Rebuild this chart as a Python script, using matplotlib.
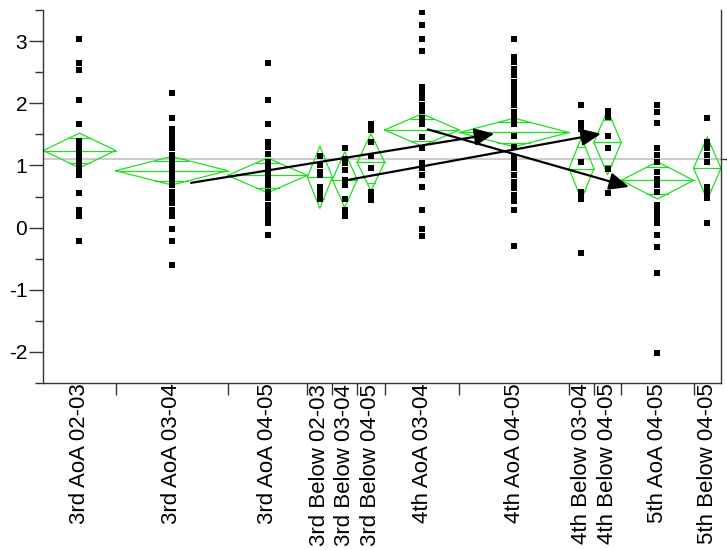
import numpy as np
import matplotlib
matplotlib.use("Agg")
import matplotlib.pyplot as plt
from matplotlib.ticker import FixedLocator

plt.rcParams['font.family'] = ['Liberation Sans', 'DejaVu Sans']
plt.rcParams['axes.unicode_minus'] = False

# group labels and sizes (x widths in JMP are proportional to n)
groups = ["3rd AoA 02-03", "3rd AoA 03-04", "3rd AoA 04-05",
          "3rd Below 02-03", "3rd Below 03-04", "3rd Below 04-05",
          "4th AoA 03-04", "4th AoA 04-05",
          "4th Below 03-04", "4th Below 04-05",
          "5th AoA 04-05", "5th Below 04-05"]
group_n = [29, 45, 32, 10, 10, 11, 30, 44, 10, 11, 29, 11]

g1 = [3.03, 2.65, 2.54, 2.06, 1.67, 1.40, 1.30, 1.20, 1.10, 1.00, 0.92, 0.85, 0.56, 0.28, 0.18, -0.21]
g2 = [2.16, 1.77, 1.58, 1.53, 1.47, 1.38, 1.28, 1.17, 1.09, 1.01, 0.93, 0.85, 0.77, 0.68, 0.58,
      0.49, 0.39, 0.28, 0.19, -0.02, -0.22, -0.60]
g3 = [2.65, 2.06, 1.67, 1.38, 1.29, 1.19, 1.06, 0.96, 0.87, 0.77, 0.68, 0.58, 0.48, 0.37, 0.27,
      0.17, 0.07, -0.12]
g4 = [1.15, 1.00, 0.90, 0.84, 0.66, 0.60, 0.53, 0.46]
g5 = [1.28, 1.10, 1.04, 0.93, 0.76, 0.69, 0.46, 0.29, 0.18]
g6 = [1.67, 1.57, 1.38, 1.15, 0.96, 0.57, 0.50, 0.45]
g7 = [3.46, 3.26, 3.03, 2.84, 2.26, 2.18, 2.08, 1.97, 1.87, 1.77, 1.67, 1.46, 1.28, 1.04, 0.96,
      0.85, 0.66, 0.28, -0.03, -0.13]
g8 = [3.03, 2.74, 2.66, 2.55, 2.45, 2.34, 2.25, 2.15, 2.06, 1.97, 1.86, 1.77, 1.67, 1.47, 1.30,
      1.14, 1.04, 0.96, 0.85, 0.74, 0.64, 0.53, 0.43, 0.28, -0.30]
g9 = [1.97, 1.68, 1.58, 1.05, 0.57, 0.51, 0.46, -0.41]
g10 = [1.88, 1.78, 1.47, 1.28, 0.95, 0.56]
g11 = [1.97, 1.86, 1.68, 1.28, 1.17, 1.06, 0.89, 0.78, 0.68, 0.57, 0.37, 0.27, 0.17, 0.08,
       -0.12, -0.32, -0.73, -2.01]
g12 = [1.77, 1.37, 1.28, 1.17, 1.06, 0.66, 0.58, 0.48, 0.08]
values = [g1, g2, g3, g4, g5, g6, g7, g8, g9, g10, g11, g12]

# means diamonds: group mean and 95% CI half width
means = [1.24, 0.915, 0.84, 0.81, 0.77, 1.05, 1.57, 1.53, 0.95, 1.37, 0.76, 0.955]
ci_half = [0.28, 0.23, 0.28, 0.50, 0.45, 0.46, 0.26, 0.23, 0.50, 0.52, 0.30, 0.505]
grand_mean = 1.11

# arrows between group means (from, to)
arrows = [((59.3, 0.72), (181.0, 1.51)),
          ((122.7, 0.77), (223.8, 1.51)),
          ((154.3, 1.58), (235.1, 0.655))]

green = '#1ee01e'

fig = plt.figure(figsize=(7.27, 5.5), dpi=100)
ax = fig.add_axes([0.0596, 0.3036, 0.9321, 0.6782])

edges = np.concatenate([[0], np.cumsum(group_n)])
centers = (edges[:-1] + edges[1:]) / 2
total = edges[-1]

ax.axhline(grand_mean, color='#c8c8c8', lw=1.3, zorder=1)

for i in range(len(groups)):
    xl, xr, xc = edges[i], edges[i + 1], centers[i]
    m, h = means[i], ci_half[i]
    ax.plot([xl, xc, xr, xc, xl], [m, m + h, m, m - h, m], color=green, lw=0.9, zorder=2)
    ax.plot([xl, xr], [m, m], color=green, lw=0.9, zorder=2)
    d = (1 - 1 / np.sqrt(2)) * (xr - xl) / 2
    for s in (1, -1):
        ax.plot([xc - d, xc + d], [m + s * h / np.sqrt(2)] * 2, color=green, lw=0.9, zorder=2)
    ax.plot([xc] * len(values[i]), values[i], 's', color='black', ms=4.4, mew=0, zorder=3)

for start, end in arrows:
    ax.annotate('', xy=end, xytext=start,
                arrowprops=dict(arrowstyle='-|>,head_length=0.8,head_width=0.35',
                                color='black', lw=1.6, mutation_scale=15,
                                shrinkA=0, shrinkB=0), zorder=4)

ax.set_xlim(0, total)
ax.set_ylim(-2.5, 3.5)

ax.spines['top'].set_visible(False)
for s in ('left', 'bottom', 'right'):
    ax.spines[s].set_color('#333333')
    ax.spines[s].set_linewidth(1.0)

ax.set_yticks([-2, -1, 0, 1, 2, 3])
ax.yaxis.set_minor_locator(FixedLocator(np.arange(-2.5, 3.6, 0.5)))
ax.tick_params(axis='y', which='major', length=10, width=1, color='#333333',
               labelsize=15, pad=1.5)
ax.tick_params(axis='y', which='minor', length=5.5, width=1, color='#333333')

ax.set_xticks(centers)
ax.set_xticklabels(groups, rotation=90, fontsize=16, va='top')
ax.xaxis.set_minor_locator(FixedLocator(edges[1:-1]))
ax.tick_params(axis='x', which='major', length=0, pad=0.5)
ax.tick_params(axis='x', which='minor', length=8.5, width=1, color='#333333')

# grand mean tick on the right edge
ax.plot([total, total * 1.012], [grand_mean] * 2, color='#333333', lw=1, clip_on=False)

fig.savefig('out.png', dpi=100)
